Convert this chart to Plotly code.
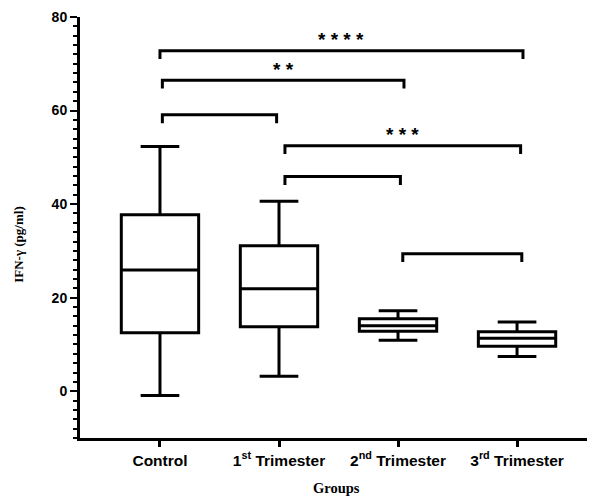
import plotly.graph_objects as go

# ---- data ----
groups = ["Control", "1<sup>st</sup> Trimester", "2<sup>nd</sup> Trimester", "3<sup>rd</sup> Trimester"]
group_pos = [0, 1, 2, 3]
q_min = [-0.9, 3.2, 10.9, 7.4]
q1 = [12.5, 13.8, 12.8, 9.6]
median = [25.9, 21.9, 14.0, 11.3]
q3 = [37.7, 31.1, 15.5, 12.7]
q_max = [52.3, 40.6, 17.2, 14.8]

# significance brackets: (left group, right group, height, label)
bracket_left = [0.0, 0.02, 0.02, 1.05, 1.05, 2.04]
bracket_right = [3.05, 2.05, 0.98, 3.03, 2.02, 3.04]
bracket_height = [72.8, 66.5, 59.1, 52.5, 45.9, 29.4]
bracket_label = ["* * * *", "* *", "", "* * *", "", ""]

y_ticks = [0, 20, 40, 60, 80]

Y_FONT = dict(family="Liberation Sans, Arial", size=14, color="black", weight="bold")
X_FONT = dict(family="Liberation Sans, Arial", size=15.5, color="black", weight="bold")

fig = go.Figure()
fig.add_trace(go.Box(
    x=group_pos, q1=q1, median=median, q3=q3,
    lowerfence=q_min, upperfence=q_max,
    width=0.65, whiskerwidth=0.5,
    line=dict(color="black", width=3),
    fillcolor="white", boxpoints=False, showlegend=False,
    hoverinfo="skip",
))

shapes = []
drop = 1.8
for xl, xr, h in zip(bracket_left, bracket_right, bracket_height):
    shapes.append(dict(
        type="path", xref="x", yref="y",
        path=f"M {xl},{h - drop} L {xl},{h} L {xr},{h} L {xr},{h - drop}",
        line=dict(color="black", width=3),
    ))

annotations = []
for xl, xr, h, lab in zip(bracket_left, bracket_right, bracket_height, bracket_label):
    if lab:
        annotations.append(dict(
            x=(xl + xr) / 2, y=h - 0.3, xref="x", yref="y",
            text=lab, showarrow=False, yanchor="bottom",
            font=dict(family="Liberation Sans, Arial", size=19, color="black", weight="bold"),
        ))

annotations.append(dict(
    x=-0.138, y=0.46, xref="paper", yref="paper", text="IFN-γ (pg/ml)",
    textangle=-90, showarrow=False,
    font=dict(family="Liberation Serif, Times New Roman", size=13, color="black", weight="bold"),
))
annotations.append(dict(
    x=0.499, y=-0.142, xref="paper", yref="paper", text="Groups",
    showarrow=False,
    font=dict(family="Liberation Serif, Times New Roman", size=14.5, color="black", weight="bold"),
))

fig.update_layout(
    width=587, height=489,
    margin=dict(l=72, r=0, t=9, b=59),
    paper_bgcolor="white", plot_bgcolor="white",
    shapes=shapes, annotations=annotations,
    showlegend=False,
)
fig.update_xaxes(
    range=[-0.672, 3.655], tickvals=group_pos, ticktext=groups,
    showline=True, linecolor="black", linewidth=3,
    ticks="outside", ticklen=6, tickwidth=3, tickcolor="black",
    showgrid=False, zeroline=False, tickfont=X_FONT,
)
fig.update_yaxes(
    range=[-10, 80], tickvals=y_ticks,
    showline=True, linecolor="black", linewidth=3,
    ticks="outside", ticklen=7, tickwidth=2, tickcolor="black",
    minor=dict(dtick=2, ticks="outside", ticklen=4, tickwidth=2, tickcolor="black", showgrid=False),
    showgrid=False, zeroline=False, tickfont=Y_FONT,
)

fig.write_html("out.html")
